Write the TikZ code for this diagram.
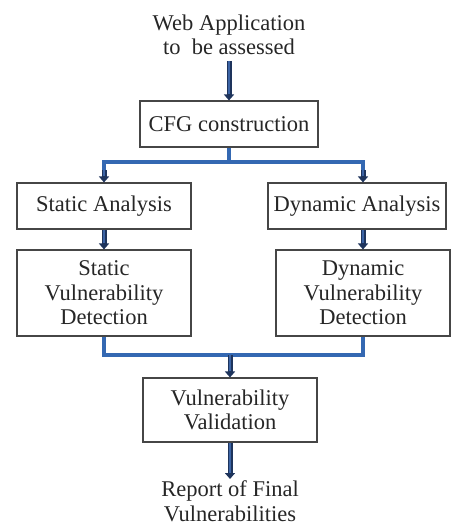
\documentclass[tikz,border=0pt]{standalone}
\usepackage{fontspec}
\setmainfont{Liberation Serif}
\usetikzlibrary{arrows.meta,calc}
\definecolor{barblue}{RGB}{52,104,178}
\definecolor{arrnavy}{RGB}{30,52,92}
\definecolor{arrfill}{RGB}{60,100,165}
\definecolor{boxgray}{RGB}{70,70,70}
\tikzset{
  box/.style={draw=boxgray, line width=1.1pt, fill=white, align=center, inner sep=0pt,
              font=\fontsize{22.5}{24.5}\selectfont, text=black!85},
  lbl/.style={align=center, inner sep=0pt, font=\fontsize{22.5}{24.5}\selectfont, text=black!85},
  bar/.style={draw=barblue, line width=3.2pt},
  arr/.style={draw=arrnavy, line width=5pt, -{Triangle[length=6pt,width=10pt]},
              postaction={draw=arrfill, line width=2.6pt, -, shorten >=6pt}},
}
\begin{document}
\begin{tikzpicture}[x=1pt,y=-1pt]
\useasboundingbox (0,0) rectangle (454,526);
\node[lbl] (web) at (229,35) {Web Application\\to\ \ be assessed};
\node[box, minimum width=178pt, minimum height=46pt] (cfg) at (229,124) {CFG construction};
\node[box, minimum width=174pt, minimum height=46pt] (sa) at (104,206) {Static Analysis};
\node[box, minimum width=178pt, minimum height=46pt] (da) at (357,206) {Dynamic Analysis};
\node[box, minimum width=174pt, minimum height=86pt] (svd) at (104,293) {Static\\Vulnerability\\Detection};
\node[box, minimum width=174pt, minimum height=86pt] (dvd) at (363,293) {Dynamic\\Vulnerability\\Detection};
\node[box, minimum width=174pt, minimum height=64pt] (vv) at (230,410) {Vulnerability\\Validation};
\node[lbl] (rep) at (230,501) {Report of Final\\Vulnerabilities};
\coordinate (top0) at (229,61);
\coordinate (split) at (229,162);
\coordinate (sl) at (104,162);
\coordinate (sr) at (363,162);
\coordinate (ml) at (104,355);
\coordinate (mr) at (363,355);
\coordinate (mm) at (230,355);
\coordinate (endv) at (230,479);
% bars
\draw[bar] (cfg.south) -- (split);
\draw[bar, line join=miter] (sa.north |- split) ++(0,12) -- (sl) -- (sr) -- ++(0,12);
\draw[bar, line join=miter] (svd.south) -- (ml) -- (mr) -- (dvd.south);
% arrows
\draw[arr] (top0) -- (cfg.north);
\draw[arr] ($(sl)+(0,8)$) -- (sa.north);
\draw[arr] ($(sr)+(0,8)$) -- (da.north -| sr);
\draw[arr] (sa.south) -- (svd.north);
\draw[arr] (da.south -| dvd.north) -- (dvd.north);
\draw[arr] (mm) -- (vv.north);
\draw[arr] (vv.south) -- (endv);
\end{tikzpicture}
\end{document}
